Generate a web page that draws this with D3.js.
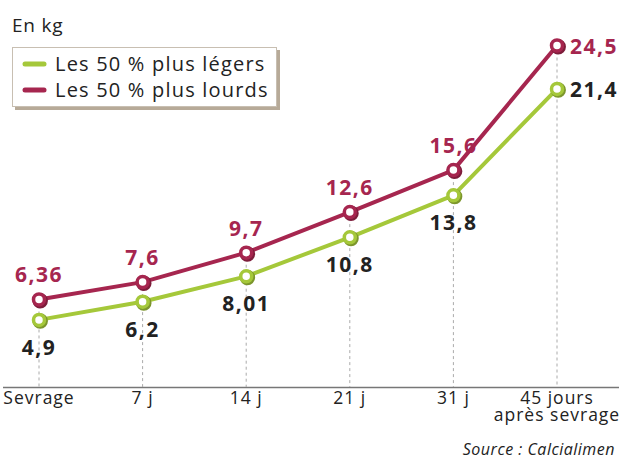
<!DOCTYPE html>
<html><head><meta charset="utf-8">
<script src="https://cdn.jsdelivr.net/npm/d3@7"></script>
<style>body{margin:0;background:#fff}svg{display:block}</style>
</head><body>
<script>
const categories = ["Sevrage", "7 j", "14 j", "21 j", "31 j", "45 jours|après sevrage"];
const legers = [4.9, 6.2, 8.01, 10.8, 13.8, 21.4];
const lourds = [6.36, 7.6, 9.7, 12.6, 15.6, 24.5];
const legersLabels = ["4,9", "6,2", "8,01", "10,8", "13,8", "21,4"];
const lourdsLabels = ["6,36", "7,6", "9,7", "12,6", "15,6", "24,5"];
const seriesNames = ["Les 50 % plus légers", "Les 50 % plus lourds"];

const W = 619, H = 459;
const green = "#a5c83a", red = "#a6264f", dark = "#222";
const font = "'Open Sans', 'Noto Sans', sans-serif";

const svg = d3.select("body").append("svg").attr("width", W).attr("height", H)
  .style("font-family", font);

const x = d3.scalePoint().domain(categories).range([39, 557]);
const y = d3.scaleLinear().domain([0, 24.5]).range([388.5, 45.5]);

// axis line
svg.append("line").attr("x1", 3).attr("x2", W).attr("y1", 387.5).attr("y2", 387.5)
  .attr("stroke", "#777").attr("stroke-width", 1.5);

// dashed verticals
svg.selectAll(".drop").data(categories).join("line")
  .attr("x1", d => x(d)).attr("x2", d => x(d))
  .attr("y1", (d, i) => y(lourds[i])).attr("y2", 387)
  .attr("stroke", "#aaa").attr("stroke-width", 1).attr("stroke-dasharray", "3,3");

// tick labels
categories.forEach(c => {
  const parts = c.split("|");
  const t = svg.append("text").attr("x", x(c)).attr("y", 404).attr("text-anchor", "middle")
    .attr("font-size", 17.5).attr("letter-spacing", 1).attr("fill", "#222");
  parts.forEach((p, k) => t.append("tspan").attr("x", x(c)).attr("dy", k ? 17 : 0).text(p));
});

const line = d3.line().x((d, i) => x(categories[i])).y(d => y(d));

function drawSeries(vals, col) {
  svg.append("path").datum(vals).attr("d", line).attr("fill", "none")
    .attr("stroke", col).attr("stroke-width", 4).attr("stroke-linejoin", "round");
  const g = svg.append("g");
  g.selectAll(".sh").data(vals).join("circle")
    .attr("cx", (d, i) => x(categories[i]) + 1.2).attr("cy", d => y(d) + 1.2).attr("r", 6)
    .attr("fill", "none").attr("stroke", d3.color(col).darker(0.8)).attr("stroke-width", 3.5);
  g.selectAll(".mk").data(vals).join("circle")
    .attr("cx", (d, i) => x(categories[i])).attr("cy", d => y(d)).attr("r", 5.5)
    .attr("fill", "#fff").attr("stroke", col).attr("stroke-width", 3.5);
}
drawSeries(legers, green);
drawSeries(lourds, red);

// value labels
legers.forEach((v, i) => {
  const last = i === legers.length - 1;
  svg.append("text")
    .attr("x", last ? x(categories[i]) + 13 : x(categories[i]))
    .attr("y", last ? y(v) + 8 : y(v) + 35)
    .attr("text-anchor", last ? "start" : "middle")
    .attr("font-size", 21).attr("font-weight", "bold").attr("letter-spacing", 1.5).attr("fill", dark)
    .text(legersLabels[i]);
});
lourds.forEach((v, i) => {
  const last = i === lourds.length - 1;
  svg.append("text")
    .attr("x", last ? x(categories[i]) + 13 : x(categories[i]))
    .attr("y", last ? y(v) + 8 : y(v) - 17)
    .attr("text-anchor", last ? "start" : "middle")
    .attr("font-size", 21).attr("font-weight", "bold").attr("letter-spacing", 1.5).attr("fill", red)
    .text(lourdsLabels[i]);
});

// title
svg.append("text").attr("x", 12).attr("y", 32).attr("font-size", 19).attr("letter-spacing", 0.8)
  .attr("fill", "#222").text("En kg");

// legend
svg.append("rect").attr("x", 15).attr("y", 50).attr("width", 265).attr("height", 60).attr("fill", "#b7aa98");
svg.append("rect").attr("x", 12.5).attr("y", 47.5).attr("width", 264).attr("height", 59)
  .attr("fill", "#fff").attr("stroke", "#c8bfb2").attr("stroke-width", 1);
[green, red].forEach((col, k) => {
  const yy = 64 + k * 26;
  svg.append("line").attr("x1", 25).attr("x2", 44).attr("y1", yy).attr("y2", yy)
    .attr("stroke", col).attr("stroke-width", 5).attr("stroke-linecap", "round");
  svg.append("text").attr("x", 55).attr("y", yy + 7).attr("font-size", 20).attr("letter-spacing", 1.2)
    .attr("fill", "#222").text(seriesNames[k]);
});

// source
svg.append("text").attr("x", 615).attr("y", 455).attr("text-anchor", "end")
  .attr("font-size", 16).attr("font-style", "italic").attr("letter-spacing", 0.5)
  .attr("fill", "#222").text("Source : Calcialimen");
</script>
</body></html>
